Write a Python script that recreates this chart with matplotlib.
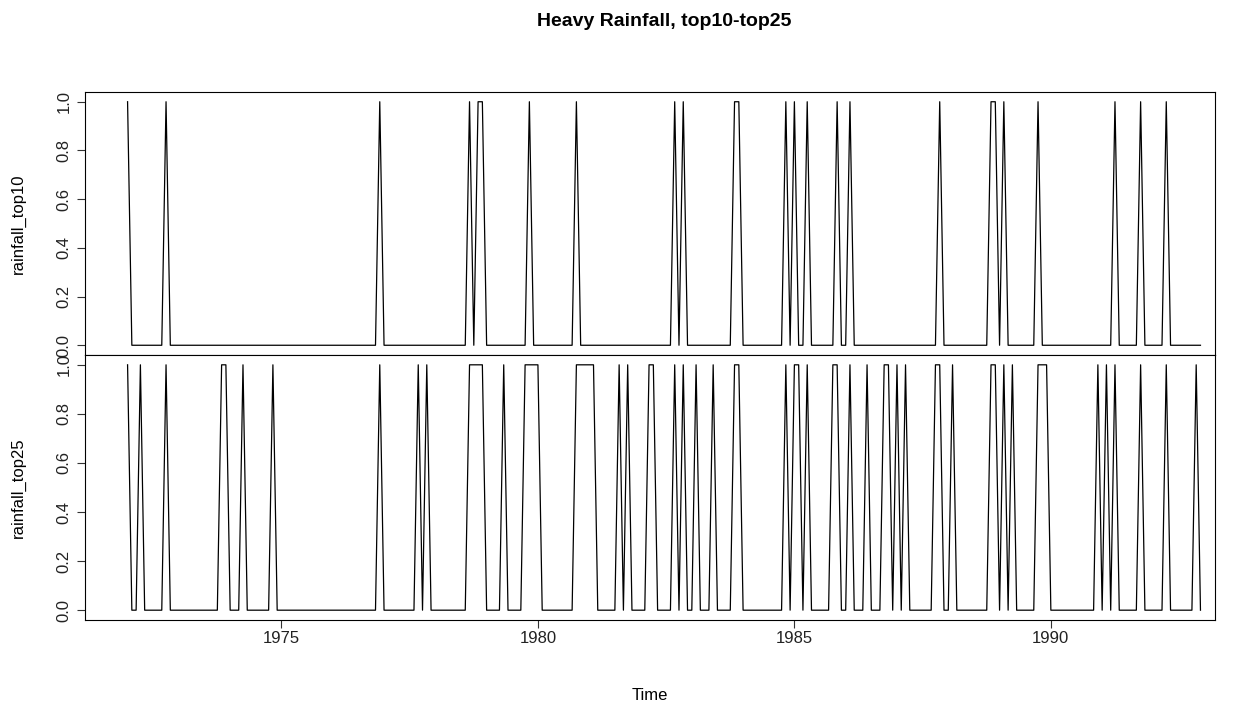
import numpy as np
import matplotlib
matplotlib.use("Agg")
import matplotlib.pyplot as plt

plt.rcParams['font.family'] = ['Liberation Sans', 'DejaVu Sans']

# monthly series, Jan 1972 - Dec 1992, one string of 12 months per year
start_year = 1972
rainfall_top10 = [
    "100000000100",  # 1972
    "000000000000",
    "000000000000",
    "000000000000",
    "000000000001",
    "000000000000",
    "000000001011",
    "000000000010",
    "000000000100",  # 1980
    "000000000000",
    "000000001010",
    "000000000011",
    "000000000010",
    "100100000010",  # 1985
    "010000000000",
    "000000000010",
    "000000000011",
    "010000000100",
    "000000000000",  # 1990
    "000100000100",
    "000100000000",
]
rainfall_top25 = [
    "100100000100",  # 1972
    "000000000011",
    "000100000010",
    "000000000000",
    "000000000001",
    "000000001010",
    "000000001111",
    "000010000111",
    "100000000111",  # 1980
    "110000010100",
    "001100001010",
    "010001000011",
    "000000000010",
    "110100000110",  # 1985
    "010001000110",
    "101000000110",
    "010000000011",
    "010100000111",
    "000000000001",  # 1990
    "010100000100",
    "000100000010",
]
series_names = ["rainfall_top10", "rainfall_top25"]
year_ticks = [1975, 1980, 1985, 1990]
y_ticks = [0.0, 0.2, 0.4, 0.6, 0.8, 1.0]
time_range = (1971.17, 1993.20)


def to_values(rows):
    return np.array([int(c) for row in rows for c in row], dtype=float)


fig = plt.figure(figsize=(12.48, 7.08), dpi=100)
left, width = 85 / 1248, 1130 / 1248
ax1 = fig.add_axes([left, 1 - 355 / 708, width, 263 / 708])
ax2 = fig.add_axes([left, 1 - 620 / 708, width, 265 / 708], sharex=ax1)

for ax, rows, name in zip([ax1, ax2], [rainfall_top10, rainfall_top25], series_names):
    vals = to_values(rows)
    t = start_year + np.arange(len(vals)) / 12.0
    ax.plot(t, vals, color='black', lw=0.9)
    ax.set_xlim(*time_range)
    ax.set_ylim(-0.04, 1.04)
    ax.set_yticks(y_ticks)
    ax.set_yticklabels([f"{v:.1f}" for v in y_ticks], rotation=90, va='center')
    ax.set_ylabel(name, fontsize=12, labelpad=22)
    ax.tick_params(axis='both', direction='out', length=6, width=0.8,
                   labelsize=12, colors='#333333', labelcolor='#222222')
    for s in ax.spines.values():
        s.set_linewidth(0.8)

ax1.tick_params(axis='x', bottom=False, labelbottom=False)
ax2.set_xticks(year_ticks)
ax2.tick_params(axis='x', pad=2)
ax2.set_xlabel("Time", fontsize=12, labelpad=30)

fig.text(664 / 1248, 1 - 22 / 708, "Heavy Rainfall, top10-top25", fontsize=14,
         fontweight='bold', ha='center', va='center')

fig.savefig("out.png", dpi=100)
